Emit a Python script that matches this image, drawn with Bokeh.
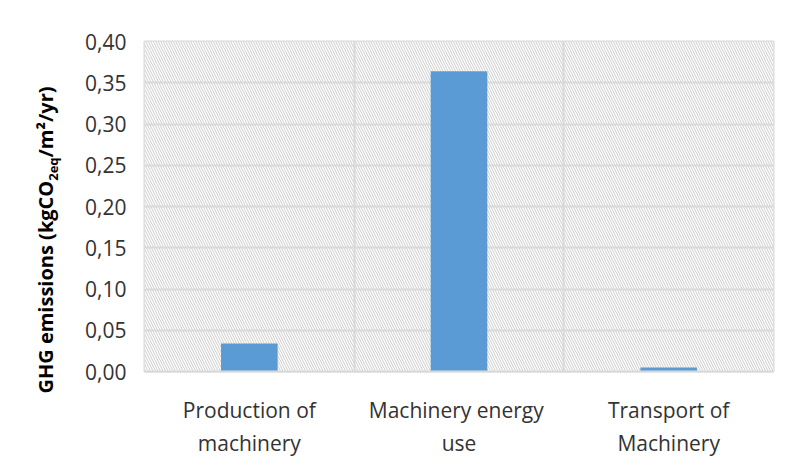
from bokeh.plotting import figure
from bokeh.models import Range1d, FixedTicker, Div
from bokeh.layouts import row
from bokeh.embed import file_html
from bokeh.resources import INLINE

categories = ["Production of\nmachinery", "Machinery  energy\nuse", "Transport of\nMachinery"]
values = [0.034, 0.364, 0.005]
y_ticks = [0.00, 0.05, 0.10, 0.15, 0.20, 0.25, 0.30, 0.35, 0.40]
y_tick_labels = ["0,00", "0,05", "0,10", "0,15", "0,20", "0,25", "0,30", "0,35", "0,40"]
y_title_main = "GHG emissions (kgCO"
y_title_sub = "2eq"
y_title_end = "/m\u00b2/yr)"

FONT = "Open Sans"
GRID = "#d9d9d9"
TEXT = "#333333"

n = len(categories)
xs = [i + 0.5 for i in range(n)]

TITLE_W = 78
TOTAL_W = 780
TOTAL_H = 460

title_html = (
    '<div style="position:absolute; left:47px; top:240px; '
    'transform:translate(-50%,-50%) rotate(-90deg); white-space:nowrap; '
    "font-family:'Open Sans'; font-weight:bold; font-size:20px; color:#000;\">"
    f'{y_title_main}<sub style="font-size:13px">{y_title_sub}</sub>{y_title_end}</div>'
)
title_div = Div(text=title_html, width=TITLE_W, height=TOTAL_H, margin=0,
                styles={"position": "relative", "overflow": "hidden"})

p = figure(width=TOTAL_W - TITLE_W, height=TOTAL_H, output_backend="svg", toolbar_location=None,
           x_range=Range1d(0, n), y_range=Range1d(y_ticks[0], y_ticks[-1]),
           min_border_left=144 - TITLE_W, min_border_right=7, min_border_top=41, min_border_bottom=78)

p.background_fill_color = "white"
p.border_fill_color = "white"
p.outline_line_color = GRID
p.outline_line_width = 2

# hatched plot background
bg = p.quad(left=[p.x_range.start], right=[p.x_range.end],
            bottom=[p.y_range.start], top=[p.y_range.end],
            fill_color="white", line_color=None,
            hatch_pattern="\\", hatch_color="#cccccc", hatch_scale=5, hatch_weight=1)
bg.level = "image"

p.vbar(x=xs, top=values, width=0.27, fill_color="#5b9bd5", line_color=None)

# axes
p.xaxis.ticker = FixedTicker(ticks=xs)
p.xaxis.major_label_overrides = {x: c for x, c in zip(xs, categories)}
p.xaxis.major_label_text_font = FONT
p.xaxis.major_label_text_font_size = "21px"
p.xaxis.major_label_text_color = TEXT
p.xaxis.major_label_standoff = 18
p.xaxis.axis_line_color = GRID
p.xaxis.axis_line_width = 2
p.xaxis.major_tick_line_color = None
p.xaxis.minor_tick_line_color = None

p.yaxis.ticker = FixedTicker(ticks=y_ticks)
p.yaxis.major_label_overrides = {t: l for t, l in zip(y_ticks, y_tick_labels)}
p.yaxis.major_label_text_font = FONT
p.yaxis.major_label_text_font_size = "21px"
p.yaxis.major_label_text_color = TEXT
p.yaxis.major_label_standoff = 12
p.yaxis.axis_line_color = None
p.yaxis.major_tick_line_color = None
p.yaxis.minor_tick_line_color = None

# grids
p.ygrid.ticker = FixedTicker(ticks=y_ticks)
p.ygrid.grid_line_color = GRID
p.ygrid.grid_line_width = 2
p.xgrid.ticker = FixedTicker(ticks=list(range(1, n)))
p.xgrid.grid_line_color = GRID
p.xgrid.grid_line_width = 2

layout = row(title_div, p, spacing=0, margin=0)

open("out.html", "w").write(file_html(layout, INLINE))
